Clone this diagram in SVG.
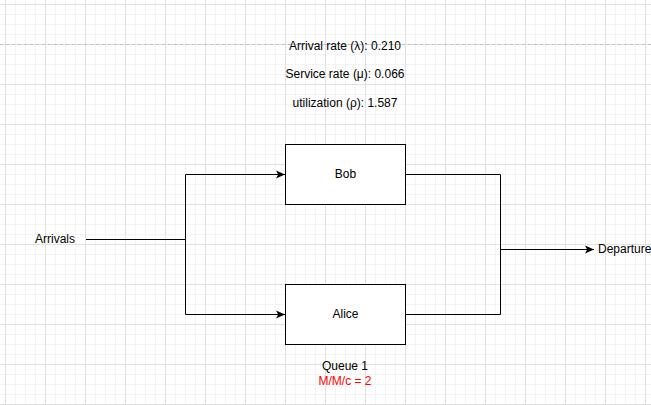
<svg xmlns="http://www.w3.org/2000/svg" width="651" height="405" viewBox="0 0 651 405">
<style>
text{font-family:"Liberation Sans",Arial,sans-serif;font-size:12px;fill:#000}
.c{text-anchor:middle}
.box{fill:#fff;stroke:#000;stroke-width:1}
.edge{fill:none;stroke:#000;stroke-width:1}
</style>
<defs>
<pattern id="minor" patternUnits="userSpaceOnUse" x="5" y="4" width="10" height="10">
<path d="M0.5 0V10M0 0.5H10" stroke="#f3f3f3" stroke-width="1" fill="none"/>
</pattern>
<pattern id="major" patternUnits="userSpaceOnUse" x="5" y="4" width="40" height="40">
<path d="M0.5 0V40M0 0.5H40" stroke="#e0e0e0" stroke-width="1" fill="none"/>
</pattern>
<marker id="arr" viewBox="0 0 10 10" refX="9" refY="5" markerWidth="10" markerHeight="10" markerUnits="userSpaceOnUse" orient="auto">
<path d="M0 1L9 5L0 9L2.2 5Z" fill="#000"/>
</marker>
</defs>
<rect width="651" height="405" fill="#fff"/>
<rect width="651" height="405" fill="url(#minor)"/>
<rect width="651" height="405" fill="url(#major)"/>
<line x1="0" y1="44.5" x2="651" y2="44.5" stroke="#c0c0c0" stroke-dasharray="3,3"/>
<g id="connectors">
<path class="edge" d="M86 239.5H185.5V174.5H285" marker-end="url(#arr)"/>
<path class="edge" d="M185.5 239.5V314.5H285" marker-end="url(#arr)"/>
<path class="edge" d="M405.5 174.5H500.5V314.5H405.5"/>
<path class="edge" d="M500.5 249.5H594" marker-end="url(#arr)"/>
</g>
<g id="stats">
<text class="c" x="345" y="50">Arrival rate (λ): 0.210</text>
<text class="c" x="345" y="78">Service rate (μ): 0.066</text>
<text class="c" x="345" y="107">utilization (ρ): 1.587</text>
</g>
<g id="bob">
<rect class="box" x="285.5" y="144.5" width="120" height="60"/>
<text class="c" x="345.5" y="178">Bob</text>
</g>
<g id="alice">
<rect class="box" x="285.5" y="284.5" width="120" height="60"/>
<text class="c" x="345.5" y="318">Alice</text>
</g>
<g id="arrivals">
<text class="c" x="55" y="243">Arrivals</text>
</g>
<g id="departure">
<text x="598" y="253">Departure</text>
</g>
<g id="queue">
<text class="c" x="345" y="370">Queue 1</text>
<text class="c" x="345" y="385" style="fill:#ff0000">M/M/c = 2</text>
</g>
</svg>
